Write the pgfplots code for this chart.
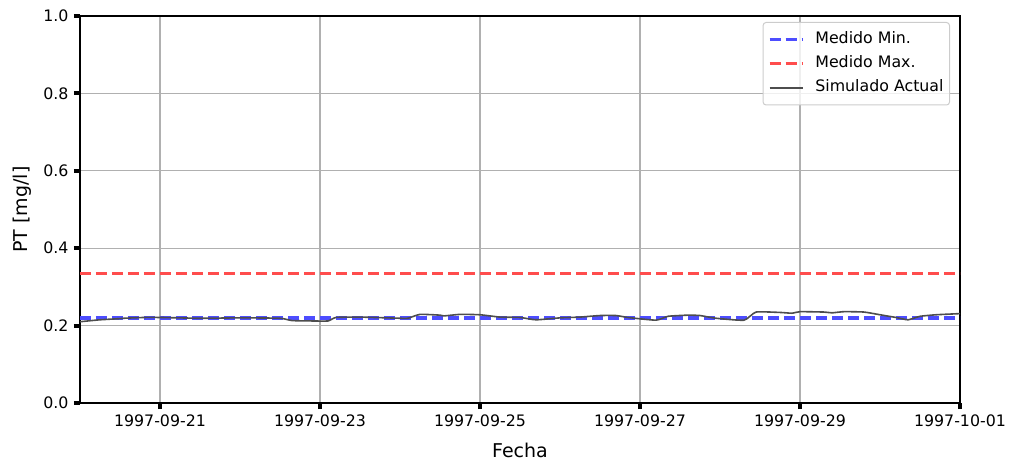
\documentclass[border=0pt]{standalone}
\usepackage{pgfplots}
\pgfplotsset{compat=1.18}
\usepackage{fontspec}
\setmainfont{DejaVu Sans}
\definecolor{minblue}{RGB}{77,77,255}
\definecolor{maxred}{RGB}{255,77,77}
\definecolor{simgray}{RGB}{77,77,77}
\definecolor{gridgray}{RGB}{176,176,176}
\definecolor{legframe}{RGB}{204,204,204}
\begin{document}
\begin{tikzpicture}
\useasboundingbox (-80bp,-60bp) rectangle (933bp,403bp);
\begin{axis}[
  at={(0,0)}, anchor=south west,
  scale only axis,
  width=880bp, height=387bp,
  xmin=0, xmax=11, ymin=0, ymax=1,
  xtick={1,3,5,7,9,11},
  xticklabels={1997-09-21,1997-09-23,1997-09-25,1997-09-27,1997-09-29,1997-10-01},
  ytick={0,0.2,0.4,0.6,0.8,1.0},
  yticklabel style={/pgf/number format/fixed,/pgf/number format/fixed zerofill,/pgf/number format/precision=1, xshift=-2bp},
  /pgf/number format/assume math mode=true,
  tick label style={font=\fontsize{15.8bp}{19bp}\selectfont, black},
  label style={font=\fontsize{19bp}{23bp}\selectfont},
  xlabel={Fecha}, ylabel={PT [mg/l]},
  xlabel style={at={(axis description cs:0.5,0)}, anchor=center, yshift=-47bp},
  ylabel style={at={(axis description cs:-0.0659,0.5)}, anchor=center},
  xticklabel style={yshift=-2bp},
  xtick pos=left, ytick pos=left,
  tick align=outside,
  major tick length=6bp,
  every tick/.style={black, line width=4bp},
  axis line style={line width=1.5bp, black},
  grid=major,
  major grid style={gridgray, line width=1.3bp},
  legend style={at={(1,1)}, anchor=north east, xshift=-10bp, yshift=-6bp,
    draw=legframe, line width=1bp, rounded corners=3bp, fill=white, fill opacity=0.8, text opacity=1,
    font=\fontsize{15.8bp}{19bp}\selectfont, row sep=7.5bp, column sep=10bp,
    inner xsep=5bp, inner ysep=9bp,
    nodes={inner sep=1bp, text height=11.5bp, text depth=3bp}},
  legend cell align=left,
  legend image code/.code={\draw[#1] (0bp,0bp) -- (33bp,0bp);},
]
\addplot[minblue, line width=3.3bp, dash pattern=on 11bp off 5bp] coordinates {(0,0.220) (11,0.220)};
\addlegendentry{Medido Min.}
\addplot[maxred, line width=3.3bp, dash pattern=on 11bp off 5bp] coordinates {(0,0.335) (11,0.335)};
\addlegendentry{Medido Max.}
\addplot[simgray, line width=1.6bp, smooth, tension=0.3] coordinates {
(0.00,0.210) (0.25,0.215) (0.50,0.218) (0.55,0.219) (0.80,0.221) (1.00,0.221)
(1.50,0.219) (2.00,0.220) (2.50,0.219) (2.65,0.213) (2.90,0.212) (3.10,0.212)
(3.20,0.221) (3.50,0.222) (4.00,0.219) (4.10,0.219) (4.25,0.229) (4.50,0.227)
(4.55,0.225) (4.75,0.229) (5.00,0.228) (5.25,0.222) (5.50,0.221) (5.70,0.215)
(6.00,0.220) (6.25,0.222) (6.50,0.226) (6.70,0.226) (6.85,0.221) (7.20,0.214)
(7.35,0.224) (7.60,0.227) (7.75,0.226) (7.95,0.219) (8.30,0.214) (8.45,0.235)
(8.75,0.234) (8.90,0.232) (9.00,0.236) (9.30,0.235) (9.40,0.233) (9.55,0.236)
(9.80,0.235) (10.00,0.228) (10.20,0.221) (10.35,0.215) (10.50,0.224) (10.70,0.228)
(10.90,0.230) (11.00,0.231)};
\addlegendentry{Simulado Actual}
\end{axis}
\end{tikzpicture}
\end{document}
